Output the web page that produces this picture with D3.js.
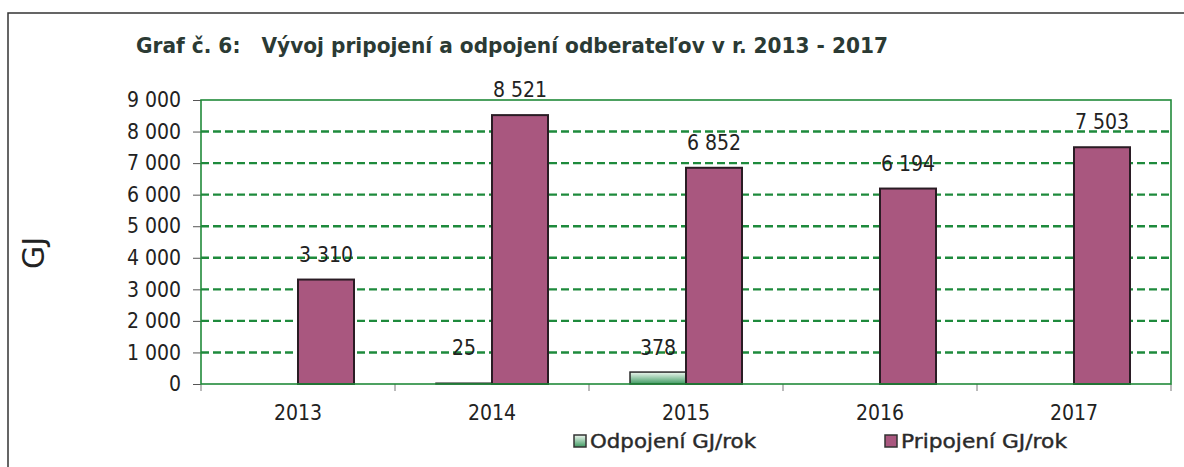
<!DOCTYPE html>
<meta charset="utf-8">
<script src="https://d3js.org/d3.v7.min.js"></script>
<style>
body { margin: 0; background: #fff; }
text { font-family: "DejaVu Sans Condensed", "DejaVu Sans", sans-serif; fill: #222; }
</style>
<body>
<div id="chart"></div>
<script>
// data
var years = ["2013", "2014", "2015", "2016", "2017"];
var odpojeni = [0, 25, 378, 0, 0];
var pripojeni = [3310, 8521, 6852, 6194, 7503];
var seriesNames = ["Odpojení GJ/rok", "Pripojení GJ/rok"];
var yTicks = [0, 1000, 2000, 3000, 4000, 5000, 6000, 7000, 8000, 9000];

var W = 1184, H = 467;
var margin = {top: 100, right: 13, bottom: 83, left: 201},
  width = W - margin.left - margin.right,
  height = H - margin.top - margin.bottom;

var fmt = function(v) { return d3.format(",")(v).replace(/,/g, " "); };

var svg = d3.select("#chart").append("svg")
  .attr("width", W)
  .attr("height", H);

// outer frame (top and left edges only show)
svg.append("path")
  .attr("d", "M8," + H + "V13H" + W)
  .attr("fill", "none")
  .attr("stroke", "#333")
  .attr("stroke-width", 1.5);

svg.append("text")
  .attr("x", 136)
  .attr("y", 53)
  .attr("textLength", 752)
  .attr("lengthAdjust", "spacingAndGlyphs")
  .style("white-space", "pre")
  .style("font-family", "'DejaVu Sans', sans-serif")
  .style("font-weight", "bold")
  .style("font-size", "21px")
  .style("fill", "#2b3a34")
  .text("Graf č. 6:   Vývoj pripojení a odpojení odberateľov v r. 2013 - 2017");

svg.append("text")
  .attr("transform", "translate(44,253) rotate(-90)")
  .attr("text-anchor", "middle")
  .style("font-family", "'DejaVu Sans', sans-serif")
  .style("font-size", "30px")
  .text("GJ");

var defs = svg.append("defs");
var grad = defs.append("linearGradient")
  .attr("id", "greenGrad")
  .attr("x1", 0).attr("y1", 0).attr("x2", 0).attr("y2", 1);
grad.append("stop").attr("offset", "0%").attr("stop-color", "#eef7f0");
grad.append("stop").attr("offset", "100%").attr("stop-color", "#3f9a62");

var g = svg.append("g")
  .attr("transform", "translate(" + margin.left + "," + margin.top + ")");

var x = d3.scaleBand().domain(years).range([0, width]);
var y = d3.scaleLinear().domain([0, 9000]).range([height, 0]);
var barW = 56;

// gridlines
g.selectAll(".grid")
  .data(yTicks.filter(function(d) { return d > 0 && d < 9000; }))
  .enter().append("line")
    .attr("x1", 0).attr("x2", width)
    .attr("y1", function(d) { return y(d); })
    .attr("y2", function(d) { return y(d); })
    .attr("stroke", "#1e8a3c")
    .attr("stroke-width", 2.4)
    .attr("stroke-dasharray", "8,4");

// y axis
var yAxis = g.append("g")
  .call(d3.axisLeft(y).tickValues(yTicks).tickFormat(fmt).tickSize(8).tickPadding(12));
yAxis.select(".domain").remove();
yAxis.selectAll("line").attr("stroke", "#555");
yAxis.selectAll("text")
  .style("font-size", "21px")
  .style("fill", "#222");

// x axis ticks at band edges
var xAxis = g.append("g").attr("transform", "translate(0," + height + ")");
xAxis.selectAll("line")
  .data(d3.range(years.length + 1))
  .enter().append("line")
    .attr("x1", function(i) { return i * x.bandwidth(); })
    .attr("x2", function(i) { return i * x.bandwidth(); })
    .attr("y1", 0).attr("y2", 7)
    .attr("stroke", "#777");
xAxis.selectAll("text")
  .data(years)
  .enter().append("text")
    .attr("x", function(d) { return x(d) + x.bandwidth() / 2; })
    .attr("y", 36)
    .attr("text-anchor", "middle")
    .style("font-size", "21px")
    .text(function(d) { return d; });

// bars
g.selectAll(".odp")
  .data(years)
  .enter().append("rect")
    .attr("x", function(d) { return x(d) + x.bandwidth() / 2 - barW; })
    .attr("y", function(d, i) { return y(odpojeni[i]); })
    .attr("width", barW)
    .attr("height", function(d, i) { return height - y(odpojeni[i]); })
    .attr("fill", "url(#greenGrad)")
    .attr("stroke", function(d, i) { return odpojeni[i] > 0 ? "#2a2a2a" : "none"; })
    .attr("stroke-width", 1.5);

g.selectAll(".prip")
  .data(years)
  .enter().append("rect")
    .attr("x", function(d) { return x(d) + x.bandwidth() / 2; })
    .attr("y", function(d, i) { return y(pripojeni[i]); })
    .attr("width", barW)
    .attr("height", function(d, i) { return height - y(pripojeni[i]); })
    .attr("fill", "#a9577f")
    .attr("stroke", "#2a1c24")
    .attr("stroke-width", 2);

// plot border
g.append("rect")
  .attr("width", width).attr("height", height)
  .attr("fill", "none")
  .attr("stroke", "#218a3a")
  .attr("stroke-width", 1.6);

// value labels
g.selectAll(".lp")
  .data(years)
  .enter().append("text")
    .attr("x", function(d) { return x(d) + x.bandwidth() / 2 + barW / 2; })
    .attr("y", function(d, i) { return y(pripojeni[i]) - 18; })
    .attr("text-anchor", "middle")
    .style("font-size", "21px")
    .text(function(d, i) { return fmt(pripojeni[i]); });

g.selectAll(".lo")
  .data(years.filter(function(d, i) { return odpojeni[i] > 0; }))
  .enter().append("text")
    .attr("x", function(d) { return x(d) + x.bandwidth() / 2 - barW / 2; })
    .attr("y", function(d) { return y(Math.max(odpojeni[years.indexOf(d)], 378)) - 17; })
    .attr("text-anchor", "middle")
    .style("font-size", "21px")
    .text(function(d) { return fmt(odpojeni[years.indexOf(d)]); });

// legend
var legend = svg.append("g");
var legendX = [574, 885];
var legendFill = ["url(#greenGrad)", "#a9577f"];
seriesNames.forEach(function(name, i) {
  legend.append("rect")
    .attr("x", legendX[i]).attr("y", 435)
    .attr("width", 12).attr("height", 12)
    .attr("fill", legendFill[i])
    .attr("stroke", "#333").attr("stroke-width", 1.5);
  legend.append("text")
    .attr("x", legendX[i] + 16).attr("y", 448)
    .attr("textLength", 166)
    .attr("lengthAdjust", "spacingAndGlyphs")
    .style("font-family", "'DejaVu Sans', sans-serif")
    .style("font-size", "19px")
    .style("fill", "#2a2a2a")
    .style("stroke", "#2a2a2a")
    .style("stroke-width", 0.4)
    .text(name);
});
</script>
</body>
